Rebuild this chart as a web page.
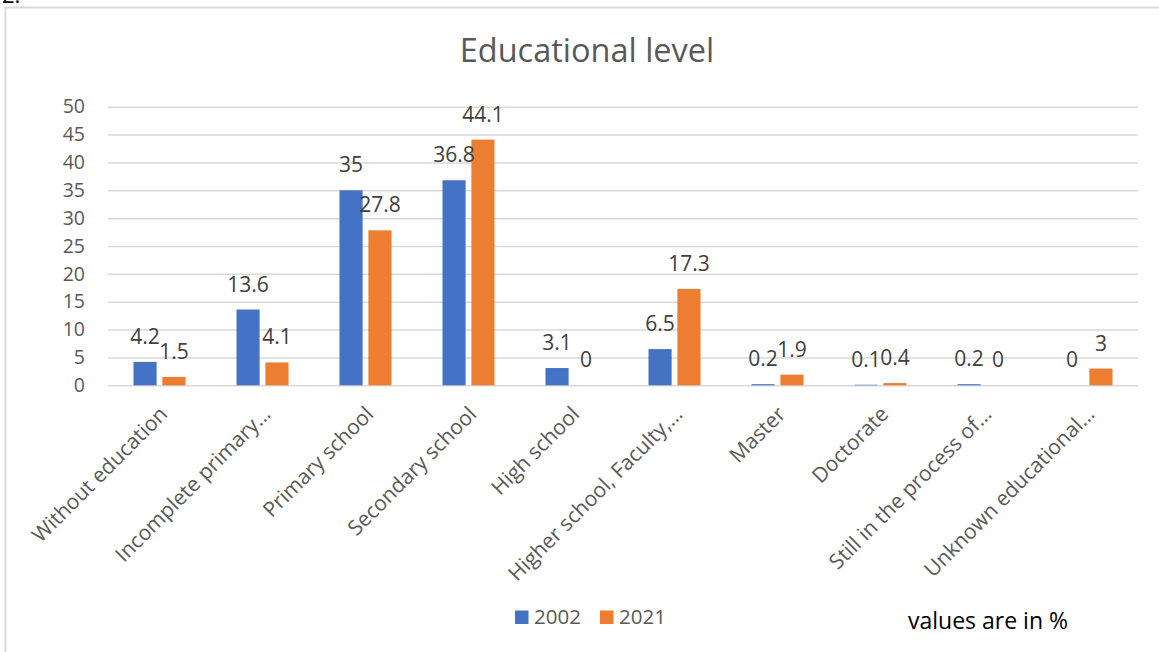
<!DOCTYPE html>
<html>
<head>
<meta charset="utf-8">
<script src="https://cdn.jsdelivr.net/npm/d3@7"></script>
<style>
  body { margin: 0; background: #fff; }
  svg { display: block; font-family: 'Open Sans', sans-serif; }
</style>
</head>
<body>
<div id="chart"></div>
<script>
const categories = [
  'Without education',
  'Incomplete primary…',
  'Primary school',
  'Secondary school',
  'High school',
  'Higher school, Faculty,…',
  'Master',
  'Doctorate',
  'Still in the process of…',
  'Unknown educational…',
];
const seriesNames = ['2002', '2021'];
const values2002 = [4.2, 13.6, 35, 36.8, 3.1, 6.5, 0.2, 0.1, 0.2, 0];
const values2021 = [1.5, 4.1, 27.8, 44.1, 0, 17.3, 1.9, 0.4, 0, 3];
const yTicks = [0, 5, 10, 15, 20, 25, 30, 35, 40, 45, 50];
const colors = ['#4472C4', '#ED7D31'];

const width = 1159;
const height = 652;
const plot = { left: 108, right: 1138, top: 106.7, bottom: 385.3 };

const svg = d3
  .select('#chart')
  .append('svg')
  .attr('width', width)
  .attr('height', height);

// frame of the pasted chart, and the cut-off caption number above it
svg
  .append('path')
  .attr('d', `M5.5,${height} V7.5 H${width}`)
  .attr('fill', 'none')
  .attr('stroke', '#d9d9d9')
  .attr('stroke-width', 2);
svg
  .append('text')
  .attr('x', 2)
  .attr('y', 3)
  .attr('font-size', 22)
  .attr('fill', '#000')
  .text('2.');

const x = d3
  .scaleBand()
  .domain(categories)
  .range([plot.left, plot.right])
  .paddingInner(0)
  .paddingOuter(0);

const groupWidth = x.bandwidth() * 0.505;
const x1 = d3
  .scaleBand()
  .domain(seriesNames)
  .range([0, groupWidth])
  .paddingInner(0.2);

const y = d3
  .scaleLinear()
  .domain([0, 50])
  .range([plot.bottom, plot.top]);

// gridlines + tick labels
const yAxis = d3
  .axisLeft(y)
  .tickValues(yTicks)
  .tickSize(-(plot.right - plot.left))
  .tickPadding(23);

svg
  .append('g')
  .attr('transform', `translate(${plot.left}, 0)`)
  .call(yAxis)
  .call((g) => g.select('.domain').remove())
  .call((g) =>
    g.selectAll('.tick line').attr('stroke', '#d9d9d9').attr('stroke-width', 1.5)
  )
  .call((g) =>
    g
      .selectAll('.tick text')
      .attr('fill', '#595959')
      .attr('font-size', 19.5)
      .attr('font-family', 'Open Sans, sans-serif')
  );

const rows = categories.map((c, i) => ({
  category: c,
  items: [
    { series: seriesNames[0], value: values2002[i] },
    { series: seriesNames[1], value: values2021[i] },
  ],
}));

const groups = svg
  .append('g')
  .selectAll('g')
  .data(rows)
  .join('g')
  .attr(
    'transform',
    (d) => `translate(${x(d.category) + (x.bandwidth() - groupWidth) / 2}, 0)`
  );

groups
  .selectAll('rect')
  .data((d) => d.items)
  .join('rect')
  .attr('x', (d) => x1(d.series))
  .attr('width', x1.bandwidth())
  .attr('y', (d) => y(d.value))
  .attr('height', (d) => y(0) - y(d.value))
  .attr('fill', (d, i) => colors[i]);

groups
  .selectAll('text')
  .data((d) => d.items)
  .join('text')
  .attr('x', (d) => x1(d.series) + x1.bandwidth() / 2)
  .attr('y', (d) => y(d.value) - 18)
  .attr('text-anchor', 'middle')
  .attr('font-size', 21)
  .attr('fill', '#404040')
  .text((d) => d.value);

// rotated category labels
svg
  .append('g')
  .selectAll('text')
  .data(categories)
  .join('text')
  .attr(
    'transform',
    (d) => `translate(${x(d) + x.bandwidth() / 2 + 4}, ${plot.bottom + 25}) rotate(-45)`
  )
  .attr('text-anchor', 'end')
  .attr('dy', '0.35em')
  .attr('font-size', 21)
  .attr('fill', '#595959')
  .text((d) => d);

// title
svg
  .append('text')
  .attr('x', 587)
  .attr('y', 62)
  .attr('text-anchor', 'middle')
  .attr('font-size', 32.5)
  .attr('fill', '#595959')
  .text('Educational level');

// legend
const legend = svg
  .append('g')
  .selectAll('g')
  .data(seriesNames)
  .join('g')
  .attr('transform', (d, i) => `translate(${515 + i * 85}, 0)`);

legend
  .append('rect')
  .attr('y', 610.5)
  .attr('width', 13.5)
  .attr('height', 13.5)
  .attr('fill', (d, i) => colors[i]);

legend
  .append('text')
  .attr('x', 19)
  .attr('y', 624)
  .attr('font-size', 20.5)
  .attr('fill', '#595959')
  .text((d) => d);

svg
  .append('text')
  .attr('x', 908)
  .attr('y', 629)
  .attr('font-size', 23)
  .attr('fill', '#000')
  .text('values are in %');
</script>
</body>
</html>
